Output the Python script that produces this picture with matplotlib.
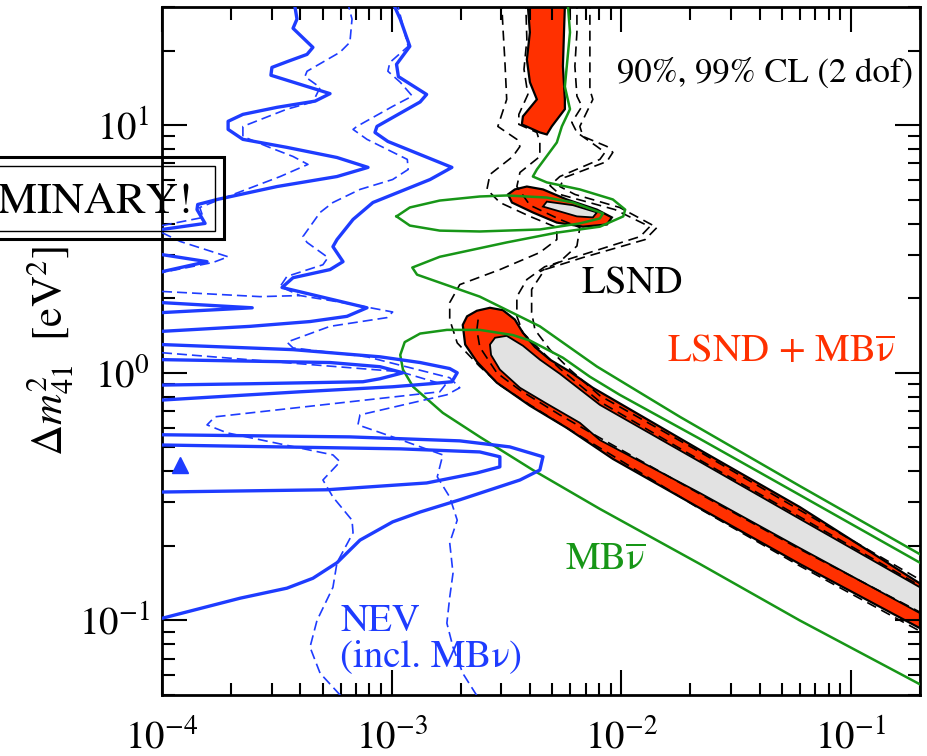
import matplotlib
matplotlib.use('Agg')
import matplotlib.pyplot as plt
from matplotlib.patches import Rectangle
from matplotlib.ticker import NullFormatter

plt.rcParams['font.family'] = ['STIXGeneral', 'DejaVu Serif']
plt.rcParams['mathtext.fontset'] = 'custom'
plt.rcParams['mathtext.rm'] = 'STIXGeneral'
plt.rcParams['mathtext.it'] = 'STIXGeneral:italic'
plt.rcParams['mathtext.bf'] = 'STIXGeneral:bold'

blue = '#1e3cff'
green = '#179617'
red = '#ff3000'
grey = '#e2e2e2'

# ---- NEV bounds, solid (two CL levels), sin^2(2theta) vs dm^2 [eV^2]
nev_a_x = [3.75e-4, 3.87e-4, 3.72e-4, 4.54e-4, 4.28e-4, 3.54e-4, 3.01e-4, 2.98e-4, 5.39e-4, 4.64e-4, 3.17e-4, 2.25e-4, 1.94e-4,
           1.94e-4, 2.25e-4, 3.50e-4, 5.78e-4, 7.89e-4, 5.78e-4, 3.17e-4, 1.74e-4, 1.43e-4, 1.42e-4, 1.54e-4, 1.0e-4]
nev_a_y = [32, 26.8, 24.6, 20.6, 19.3, 18.1, 17.1, 15.9, 13.4, 12.5, 11.8, 11.05, 10.36,
           9.61, 8.76, 8.13, 7.40, 6.75, 6.20, 5.65, 5.01, 4.78, 4.56, 4.01, 3.79]
nev_b_x = [1.0e-3, 1.09e-3, 1.20e-3, 1.05e-3, 1.07e-3, 1.42e-3, 1.33e-3, 8.63e-4, 8.46e-4, 9.63e-4, 1.83e-3, 1.47e-3, 8.29e-4,
           6.79e-4, 5.78e-4, 5.55e-4, 6.14e-4, 5.39e-4, 3.72e-4, 3.33e-4, 7.81e-4, 6.39e-4, 4.41e-4, 2.42e-4, 1.0e-4]
nev_b_y = [32, 26.8, 20.8, 17.6, 15.7, 13.3, 12.4, 9.88, 9.34, 8.59, 6.75, 6.03, 4.87,
           4.16, 3.45, 3.23, 2.81, 2.61, 2.42, 2.21, 1.83, 1.69, 1.61, 1.54, 1.47]
nev_c_x = [1e-4, 1.57e-4, 1e-4]
nev_c_y = [3.00, 2.81, 2.56]
nev_d_x = [1e-4, 2.47e-4, 1e-4]
nev_d_y = [1.92, 1.83, 1.75]
nev_e_x = [1e-4, 3.72e-4, 8.90e-4, 1.33e-3, 1.79e-3, 1.93e-3, 1.83e-3, 1.47e-3, 1.01e-3, 3.99e-4, 1e-4]
nev_e_y = [1.30, 1.24, 1.16, 1.10, 1.04, 1.00, 0.920, 0.903, 0.878, 0.838, 0.776]
nev_f_x = [1e-4, 5.39e-4, 8.90e-4, 1.12e-3, 8.90e-4, 7.50e-4, 2.42e-4, 1e-4]
nev_f_y = [1.13, 1.10, 1.058, 1.00, 0.946, 0.920, 0.903, 0.892]
nev_g_x = [1e-4, 6.58e-4, 1.98e-3, 3.27e-3, 4.56e-3, 4.42e-3, 3.62e-3, 1.98e-3, 1.33e-3, 1.01e-3, 7.28e-4, 5.78e-4,
           4.54e-4, 3.50e-4, 2.19e-4, 1e-4]
nev_g_y = [0.562, 0.551, 0.531, 0.502, 0.458, 0.405, 0.369, 0.307, 0.274, 0.250, 0.211, 0.171, 0.148, 0.135, 0.123, 0.102]
nev_h_x = [1e-4, 1.09e-3, 2.42e-3, 2.96e-3, 2.96e-3, 2.35e-3, 1.42e-3, 5.23e-4, 1e-4]
nev_h_y = [0.511, 0.493, 0.479, 0.458, 0.417, 0.394, 0.359, 0.337, 0.330]

# ---- NEV bounds, dashed
nevd_a_x = [6.39e-4, 6.72e-4, 6.58e-4, 5.96e-4, 4.28e-4, 4.19e-4, 4.88e-4, 4.54e-4, 3.50e-4, 2.25e-4, 2.25e-4, 2.87e-4,
            3.72e-4, 4.32e-4, 3.27e-4, 1.79e-4, 1.46e-4, 1.51e-4, 1e-4]
nevd_a_y = [32, 26.8, 21.6, 19.7, 16.5, 15.7, 14.2, 12.4, 11.6, 9.88, 9.00, 8.20, 7.47, 6.94, 6.20, 5.01, 4.65, 4.24, 3.93]
nevd_b_x = [1e-4, 1.20e-4, 1.94e-4, 1.67e-4, 1e-4]
nevd_b_y = [3.68, 3.39, 2.94, 2.79, 2.54]
nevd_c_x = [1.05e-3, 1.12e-3, 1.18e-3, 9.82e-4, 9.63e-4, 1.09e-3, 1.23e-3, 1.01e-3, 7.06e-4, 6.79e-4, 7.81e-4, 1.17e-3,
            1.18e-3, 1.01e-3, 7.28e-4, 5.55e-4, 4.88e-4, 4.11e-4, 4.28e-4, 5.28e-4, 5.02e-4, 3.50e-4, 3.27e-4, 3.99e-4,
            6.14e-4, 1.01e-3, 9.54e-4, 5.39e-4, 3.50e-4, 3.72e-4, 7.81e-4, 1.79e-3, 1.98e-3, 1.74e-3, 7.28e-4, 7.13e-4,
            1.01e-3, 1.67e-3, 1.58e-3, 1.79e-3, 1.93e-3, 1.79e-3, 1.85e-3, 1.79e-3, 1.74e-3, 1.85e-3, 2.04e-3, 2.42e-3]
nevd_c_y = [32, 25.1, 20.8, 17.9, 16.5, 14.9, 13.1, 11.9, 9.88, 9.61, 8.76, 7.27,
            6.62, 6.03, 5.50, 4.87, 4.44, 3.55, 3.36, 2.92, 2.73, 2.45, 2.23, 2.05,
            1.92, 1.76, 1.67, 1.54, 1.33, 1.26, 1.16, 0.955, 0.870, 0.815, 0.676, 0.616,
            0.551, 0.466, 0.380, 0.315, 0.254, 0.206, 0.155, 0.124, 0.0975, 0.078, 0.0612, 0.0476]
nevd_d_x = [1e-4, 2.67e-4, 3.99e-4]
nevd_d_y = [2.13, 2.03, 2.05]
nevd_e_x = [1e-4, 2.67e-4, 1.09e-3, 1.71e-3, 1.62e-3, 1.70e-4, 1.57e-4, 1.92e-4, 5.55e-4, 5.96e-4, 5.02e-4, 5.55e-4,
            6.72e-4, 6.79e-4, 5.78e-4, 5.55e-4, 4.73e-4, 4.41e-4, 4.88e-4, 6.26e-4]
nevd_e_y = [1.205, 1.12, 1.01, 0.892, 0.838, 0.664, 0.616, 0.572, 0.466, 0.437, 0.369, 0.315,
            0.254, 0.226, 0.171, 0.136, 0.100, 0.078, 0.0612, 0.0476]

nev_point_x = [1.2e-4]
nev_point_y = [0.424]

# ---- MiniBooNE antineutrino, 99% CL and 90% CL (closed loop + band)
mb99_x = [5.86e-3, 5.86e-3, 5.98e-3, 5.79e-3, 5.68e-3, 5.98e-3, 5.51e-3, 5.24e-3, 4.29e-3, 4.12e-3, 4.74e-3, 6.60e-3,
          9.19e-3, 1.04e-2, 1.02e-2, 8.07e-3, 5.24e-3, 3.17e-3, 1.62e-3, 1.23e-3, 1.29e-3, 2.42e-3, 4.42e-3, 7.83e-3,
          1.80e-2, 5.99e-2, 0.2]
mb99_y = [35.4, 30.2, 23.7, 17.3, 14.3, 11.6, 9.88, 8.51, 6.62, 6.20, 5.87, 5.50,
          5.01, 4.56, 4.28, 3.89, 3.68, 3.36, 2.94, 2.66, 2.49, 2.03, 1.54, 1.06,
          0.664, 0.349, 0.185]
mb90_loop_x = [1.05e-3, 1.20e-3, 1.62e-3, 2.42e-3, 3.17e-3, 4.74e-3, 6.16e-3, 8.32e-3, 8.07e-3, 6.60e-3, 4.42e-3,
               2.42e-3, 1.62e-3, 1.20e-3, 1.05e-3]
mb90_loop_y = [4.28, 4.65, 4.96, 5.15, 5.20, 5.10, 4.87, 4.40, 4.20, 4.01, 3.79, 3.72, 3.75, 3.93, 4.28]
mb90_band_x = [0.2, 5.99e-2, 2.20e-2, 9.84e-3, 7.30e-3, 5.57e-3, 4.00e-3, 3.37e-3, 2.42e-3, 1.74e-3, 1.33e-3, 1.14e-3,
               1.09e-3, 1.12e-3, 1.24e-3, 1.67e-3, 2.42e-3, 4.12e-3, 8.07e-3, 2.20e-2, 5.99e-2, 0.2]
mb90_band_y = [0.171, 0.321, 0.541, 0.815, 0.964, 1.15, 1.35, 1.42, 1.49, 1.49, 1.44, 1.33,
               1.18, 1.03, 0.878, 0.689, 0.551, 0.405, 0.282, 0.169, 0.1, 0.0552]

# ---- LSND + MB antineutrino combined: 99% (red) and 90% (grey) regions
comb99_top_x = [3.92e-3, 3.92e-3, 4.00e-3, 3.88e-3, 4.00e-3, 4.29e-3, 3.73e-3, 3.69e-3, 4.42e-3, 4.74e-3, 4.98e-3,
                5.68e-3, 5.68e-3, 5.57e-3, 5.63e-3, 5.68e-3, 5.68e-3]
comb99_top_y = [35.4, 30.2, 23.7, 18.4, 14.9, 12.7, 10.85, 10.07, 9.34, 9.17, 9.88, 11.6, 12.7, 17.3, 23.7, 30.2, 35.4]
comb99_isl_x = [3.21e-3, 3.44e-3, 3.88e-3, 4.56e-3, 5.79e-3, 7.83e-3, 9.10e-3, 8.66e-3, 6.81e-3, 5.24e-3, 4.12e-3, 3.34e-3]
comb99_isl_y = [5.25, 5.50, 5.65, 5.50, 5.01, 4.56, 4.24, 3.97, 3.89, 4.04, 4.44, 4.87]
comb90_isl_x = [4.56e-3, 4.74e-3, 6.16e-3, 7.83e-3, 7.52e-3, 6.41e-3]
comb90_isl_y = [4.69, 4.91, 4.75, 4.44, 4.24, 4.28]
comb99_band_x = [2.04e-3, 2.13e-3, 2.35e-3, 2.68e-3, 3.05e-3, 3.44e-3, 3.73e-3, 4.21e-3, 4.89e-3, 5.98e-3, 7.52e-3,
                 1.12e-2, 2.20e-2, 5.99e-2, 0.2, 0.2, 5.99e-2, 2.20e-2, 9.19e-3, 5.79e-3, 4.00e-3, 2.87e-3, 2.35e-3, 2.09e-3]
comb99_band_y = [1.56, 1.69, 1.78, 1.83, 1.79, 1.64, 1.45, 1.27, 1.13, 1.01, 0.870,
                 0.702, 0.488, 0.287, 0.141, 0.093, 0.169, 0.284, 0.449, 0.599, 0.736, 0.912, 1.108, 1.30]
comb90_band_x = [2.68e-3, 2.82e-3, 3.17e-3, 3.73e-3, 4.42e-3, 5.40e-3, 8.07e-3, 2.20e-2, 5.99e-2, 0.2,
                 0.2, 5.99e-2, 2.20e-2, 8.07e-3, 6.60e-3, 4.74e-3, 3.62e-3, 2.96e-3, 2.71e-3]
comb90_band_y = [1.30, 1.385, 1.41, 1.286, 1.13, 0.991, 0.742, 0.437, 0.257, 0.136,
                 0.107, 0.196, 0.327, 0.535, 0.628, 0.750, 0.870, 1.03, 1.18]

# ---- LSND alone, 90% and 99% CL contours (dashed)
lsnd99_l_x = [3.02e-3, 3.02e-3, 3.05e-3, 3.11e-3, 3.17e-3, 2.90e-3, 3.51e-3, 3.62e-3, 3.37e-3, 2.68e-3, 2.60e-3, 2.96e-3,
              4.00e-3, 5.24e-3, 5.24e-3, 4.42e-3, 2.96e-3, 1.98e-3, 1.79e-3, 1.79e-3, 1.93e-3, 2.42e-3, 2.96e-3, 4.00e-3,
              5.79e-3, 9.19e-3, 2.20e-2, 5.99e-2, 0.2]
lsnd99_l_y = [35.4, 30.2, 25.1, 18.4, 12.7, 9.88, 8.76, 8.20, 7.47, 6.32, 5.50, 4.87,
              4.28, 3.86, 3.45, 3.06, 2.61, 2.27, 1.92, 1.64, 1.32, 1.06, 0.892, 0.742,
              0.599, 0.462, 0.282, 0.166, 0.0905]
lsnd90_l_x = [3.84e-3, 3.84e-3, 3.88e-3, 3.77e-3, 3.92e-3, 3.58e-3, 3.58e-3, 4.29e-3, 4.42e-3, 4.42e-3, 3.62e-3, 3.51e-3,
              4.00e-3, 5.40e-3, 6.60e-3, 6.41e-3, 5.40e-3, 4.42e-3]
lsnd90_l_y = [35.4, 30.2, 22.2, 16.8, 13.3, 11.05, 10.07, 9.34, 8.51, 7.47, 6.44, 5.65,
              4.75, 4.16, 3.86, 3.25, 2.81, 2.56]
lsnd90_r_x = [6.41e-3, 6.41e-3, 6.41e-3, 6.28e-3, 6.41e-3, 6.74e-3, 6.09e-3, 6.41e-3, 7.83e-3, 8.49e-3, 8.07e-3, 5.40e-3,
              4.89e-3, 5.40e-3, 9.38e-3, 1.33e-2, 1.21e-2, 6.81e-3, 4.64e-3, 3.88e-3, 3.51e-3, 3.51e-3, 3.73e-3, 4.42e-3,
              5.40e-3, 8.07e-3, 2.20e-2, 5.99e-2, 0.2]
lsnd90_r_y = [35.4, 30.2, 23.7, 17.3, 13.1, 11.9, 10.26, 9.34, 8.20, 7.76, 7.27, 6.20,
              5.70, 5.25, 4.56, 3.89, 3.55, 3.00, 2.68, 2.38, 2.03, 1.69, 1.45, 1.24,
              1.04, 0.764, 0.444, 0.262, 0.138]
lsnd99_r_x = [7.30e-3, 7.30e-3, 7.30e-3, 7.30e-3, 7.52e-3, 6.60e-3, 6.81e-3, 8.66e-3, 9.19e-3, 8.66e-3, 5.68e-3, 5.40e-3,
              6.28e-3, 9.84e-3, 1.43e-2, 1.27e-2, 6.81e-3, 4.64e-3, 4.07e-3, 4.07e-3, 4.21e-3, 4.89e-3, 5.98e-3, 8.07e-3,
              2.20e-2, 5.99e-2, 0.2]
lsnd99_r_y = [35.4, 30.2, 23.7, 13.9, 12.7, 9.88, 9.00, 8.20, 7.76, 7.13, 6.15, 5.65,
              5.25, 4.65, 3.86, 3.45, 2.92, 2.61, 2.17, 1.75, 1.49, 1.24, 1.03, 0.808,
              0.479, 0.279, 0.146]
lsnd90_b_x = [2.38e-3, 2.35e-3, 2.42e-3, 2.87e-3, 3.62e-3, 5.40e-3, 8.07e-3, 2.20e-2, 5.99e-2, 0.2]
lsnd90_b_y = [1.64, 1.49, 1.27, 1.00, 0.851, 0.676, 0.546, 0.324, 0.194, 0.108]


fig = plt.figure(figsize=(9.28, 7.56), dpi=100)
ax = fig.add_axes([0.1746, 0.0807, 0.8168, 0.9101])

# combined regions
for px, py in [(comb99_top_x, comb99_top_y), (comb99_isl_x, comb99_isl_y), (comb99_band_x, comb99_band_y)]:
    ax.fill(px, py, facecolor=red, edgecolor='black', lw=1.6, zorder=1)
for px, py in [(comb90_isl_x, comb90_isl_y), (comb90_band_x, comb90_band_y)]:
    ax.fill(px, py, facecolor=grey, edgecolor='black', lw=1.3, zorder=2)

# LSND
for px, py in [(lsnd99_l_x, lsnd99_l_y), (lsnd90_l_x, lsnd90_l_y), (lsnd90_r_x, lsnd90_r_y),
               (lsnd99_r_x, lsnd99_r_y), (lsnd90_b_x, lsnd90_b_y)]:
    ax.plot(px, py, color='black', lw=1.2, dashes=(6, 3.5), zorder=3)

# MB antineutrino
for px, py in [(mb99_x, mb99_y), (mb90_loop_x, mb90_loop_y), (mb90_band_x, mb90_band_y)]:
    ax.plot(px, py, color=green, lw=1.8, zorder=4)

# NEV
for px, py in [(nev_a_x, nev_a_y), (nev_b_x, nev_b_y), (nev_c_x, nev_c_y), (nev_d_x, nev_d_y),
               (nev_e_x, nev_e_y), (nev_f_x, nev_f_y), (nev_g_x, nev_g_y), (nev_h_x, nev_h_y)]:
    ax.plot(px, py, color=blue, lw=2.4, zorder=5)
for px, py in [(nevd_a_x, nevd_a_y), (nevd_b_x, nevd_b_y), (nevd_c_x, nevd_c_y), (nevd_d_x, nevd_d_y),
               (nevd_e_x, nevd_e_y)]:
    ax.plot(px, py, color=blue, lw=1.2, dashes=(6, 3), zorder=5)
ax.plot(nev_point_x, nev_point_y, marker='^', ms=11, color=blue, ls='none', zorder=6, clip_on=False)

ax.set_xscale('log')
ax.set_yscale('log')
ax.set_xlim(1e-4, 0.2)
ax.set_ylim(0.05, 30)
ax.yaxis.set_minor_formatter(NullFormatter())
ax.xaxis.set_minor_formatter(NullFormatter())
ax.tick_params(which='both', direction='in', top=True, right=True, width=1.5, labelsize=28)
ax.tick_params(which='major', length=18)
ax.tick_params(which='minor', length=9)
ax.tick_params(axis='x', pad=17)
ax.tick_params(axis='y', pad=9)
for s in ax.spines.values():
    s.set_linewidth(2)

ax.text(0.991, 0.891, '90%, 99% CL (2 dof)', transform=ax.transAxes, ha='right', va='baseline', fontsize=25)
ax.text(0.554, 0.584, 'LSND', transform=ax.transAxes, ha='left', va='baseline', fontsize=28)
ax.text(0.666, 0.484, r'LSND + MB$\overline{\mathrm{\nu}}$', transform=ax.transAxes, ha='left', va='baseline',
        fontsize=28, color=red)
ax.text(0.532, 0.182, r'MB$\overline{\mathrm{\nu}}$', transform=ax.transAxes, ha='left', va='baseline',
        fontsize=28, color=green)
ax.text(0.235, 0.042, 'NEV\n(incl. MB\u03bd)', transform=ax.transAxes, ha='left', va='baseline', fontsize=28,
        color=blue, linespacing=1.0)

fig.text(0.054, 0.5357, r'$\Delta m^2_{41}$  [eV$^2$]', rotation=90, ha='center', va='center', fontsize=31)

# preliminary stamp, double frame running off the left edge
fig.text(0.208, 0.7183, 'PRELIMINARY!', ha='right', va='baseline', fontsize=32, zorder=10)
fig.patches.append(Rectangle((-0.2, 0.6839), 0.4414, 0.1085, transform=fig.transFigure,
                             fill=False, lw=2.2, ec='black', zorder=10))
fig.patches.append(Rectangle((-0.2, 0.6944), 0.4317, 0.0860, transform=fig.transFigure,
                             fill=False, lw=1.0, ec='black', zorder=10))

fig.savefig('out.png', dpi=100)
